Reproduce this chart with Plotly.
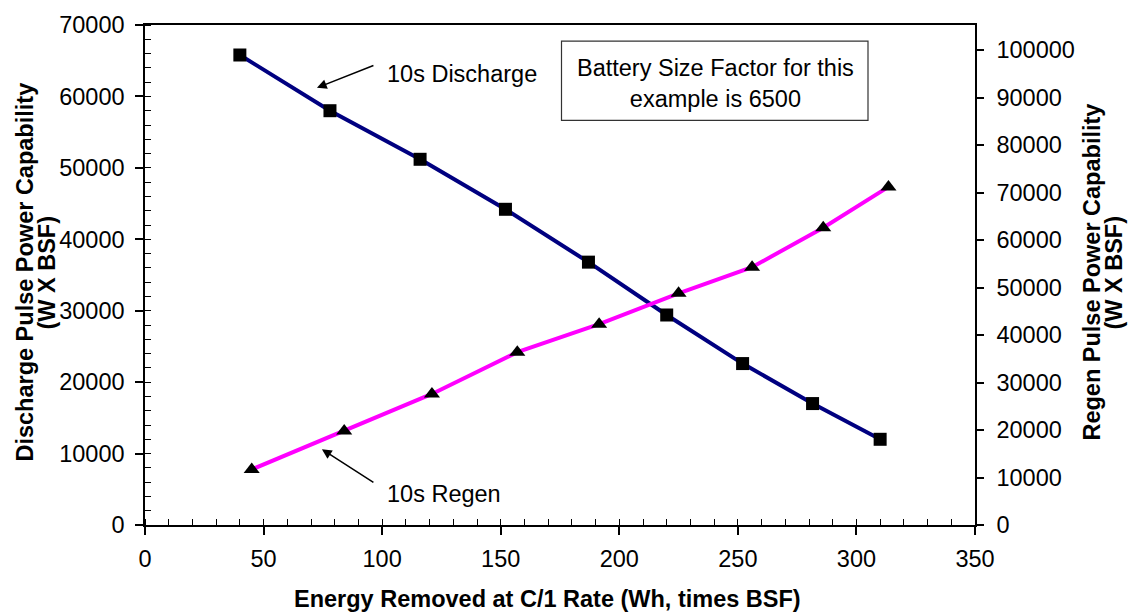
import plotly.graph_objects as go

# Discharge (left axis)
dis_x = [40, 78, 116, 152, 187, 220, 252, 281.5, 310]
dis_y = [65800, 58000, 51200, 44200, 36800, 29400, 22600, 17000, 12000]
# Regen (right axis)
reg_x = [45, 84, 121, 157, 191.5, 225, 256, 286, 313.5]
reg_y = [11700, 19800, 27600, 36400, 42300, 48800, 54300, 62600, 71200]

x_ticks = [0, 50, 100, 150, 200, 250, 300, 350]

FONT = "Liberation Sans, Arial, sans-serif"
FS = 23.5

fig = go.Figure()
fig.add_trace(go.Scatter(x=dis_x, y=dis_y, mode="lines+markers", name="10s Discharge",
                         line=dict(color="#000080", width=4),
                         marker=dict(symbol="square", size=13, color="black"), yaxis="y"))
fig.add_trace(go.Scatter(x=reg_x, y=reg_y, mode="lines+markers", name="10s Regen",
                         line=dict(color="#FF00FF", width=4),
                         marker=dict(symbol="triangle-up", size=14, color="black"), yaxis="y2"))

axis_common = dict(showline=True, linecolor="black", linewidth=1.5, showgrid=False, zeroline=False,
                   tickfont=dict(family=FONT, size=FS, color="black"), tickcolor="black",
                   tickformat="d")

fig.update_layout(
    width=1130, height=614,
    margin=dict(l=145, r=155, t=16, b=89),
    paper_bgcolor="white", plot_bgcolor="white",
    showlegend=False,
    font=dict(family=FONT, color="black"),
    xaxis=dict(range=[0, 350], tickvals=x_ticks, ticks="outside", ticklen=8, tickwidth=1.5,
               mirror=True, ticklabelstandoff=4,
               minor=dict(dtick=10, ticks="inside", ticklen=6, tickcolor="black", tickwidth=1.2),
               **axis_common),
    yaxis=dict(range=[0, 70000], dtick=10000, ticks="outside", ticklen=8, tickwidth=1.5,
               ticklabelstandoff=6,
               minor=dict(dtick=2000, ticks="inside", ticklen=6, tickcolor="black", tickwidth=1.2),
               **axis_common),
    yaxis2=dict(range=[0, 105300], dtick=10000, overlaying="y", side="right", ticks="outside",
                ticklen=7, tickwidth=1.5, ticklabelstandoff=8, **axis_common),
)


def px_x(p):
    return (p - 145) / 830


def px_y(p):
    return (525 - p) / 509


TFS = 23.5
ann = []
# axis titles
ann.append(dict(text="<b>Energy Removed at C/1 Rate (Wh, times BSF)</b>", xref="paper", yref="paper",
                x=px_x(547.5), y=px_y(600), showarrow=False, xanchor="center", yanchor="middle",
                font=dict(size=TFS, family=FONT)))
for txt, xp in [("Discharge Pulse Power Capability", 25), ("(W X BSF)", 47),
                ("Regen Pulse Power Capability", 1092), ("(W X BSF)", 1114)]:
    ann.append(dict(text="<b>" + txt + "</b>", xref="paper", yref="paper",
                    x=px_x(xp), y=px_y(268), textangle=-90, showarrow=False,
                    xanchor="center", yanchor="middle", font=dict(size=TFS, family=FONT)))
# labels with arrows
ann.append(dict(text="", x=72.5, y=61200, xref="x", yref="y", ax=58, ay=-23, showarrow=True,
                arrowhead=2, arrowsize=1.3, arrowwidth=1.5, arrowcolor="black"))
ann.append(dict(text="10s Discharge", x=px_x(385), y=px_y(66), xref="paper", yref="paper",
                showarrow=False, xanchor="left", yanchor="middle", font=dict(size=FS, family=FONT)))
ann.append(dict(text="", x=74.6, y=10600, xref="x", yref="y", ax=53, ay=34, showarrow=True,
                arrowhead=2, arrowsize=1.3, arrowwidth=1.5, arrowcolor="black"))
ann.append(dict(text="10s Regen", x=px_x(385), y=px_y(493), xref="paper", yref="paper",
                showarrow=False, xanchor="left", yanchor="middle", font=dict(size=FS, family=FONT)))
# info box text
ann.append(dict(text="Battery Size Factor for this<br>example is 6500", xref="paper", yref="paper",
                x=px_x(715), y=px_y(76), showarrow=False, xanchor="center", yanchor="middle",
                font=dict(size=FS, family=FONT)))
fig.update_layout(annotations=ann)

fig.add_shape(type="rect", xref="paper", yref="paper",
              x0=px_x(561.5), x1=px_x(868), y0=px_y(113), y1=px_y(32.5),
              line=dict(color="#333333", width=1.2), fillcolor="white", layer="below")

fig.write_html("out.html")
